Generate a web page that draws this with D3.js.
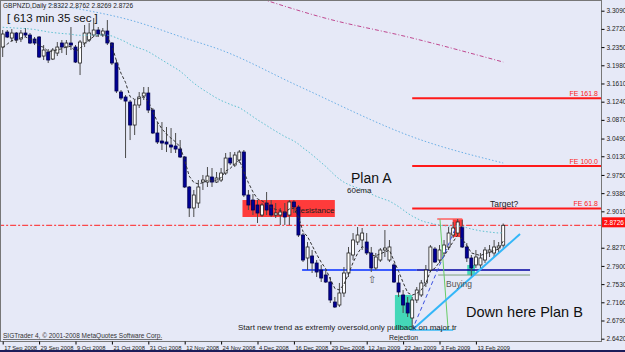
<!DOCTYPE html>
<html><head><meta charset="utf-8">
<script src="https://cdn.jsdelivr.net/npm/d3@7"></script>
<style>body{margin:0;background:#e6e9f7;} svg{display:block;font-family:"Liberation Sans",Arial,sans-serif;}</style>
</head><body><svg id="c" width="625" height="352"></svg>
<script>
const opens=[3.2351,3.2656,3.2534,3.2636,3.2514,3.2636,3.2595,3.2514,3.2555,3.2168,3.2250,3.2107,3.2229,3.2433,3.2351,3.2433,3.2351,3.2026,3.2433,3.2494,3.2595,3.2697,3.2595,3.2677,3.2433,3.2026,3.1436,3.1335,3.1233,3.0765,3.1172,3.1355,3.1416,3.1070,3.0603,3.0440,3.0420,3.0359,3.0338,3.0277,3.0115,2.9505,2.9078,2.9179,2.9606,2.9606,2.9708,2.9606,2.9647,2.9789,3.0094,2.9952,3.0054,3.0216,2.9342,2.9240,2.9139,2.8935,2.9179,2.9139,2.8935,2.8935,2.8996,2.8935,2.9200,2.9098,2.8529,2.8061,2.8102,2.7959,2.7817,2.7715,2.7573,2.7166,2.7105,2.7349,2.7756,2.8122,2.8386,2.8427,2.8386,2.8163,2.7858,2.8020,2.8224,2.8020,2.7919,2.7553,2.7309,2.7146,2.6841,2.7207,2.7309,2.7553,2.7817,2.8244,2.8020,2.8163,2.8285,2.8529,2.8569,2.8691,2.8285,2.8061,2.7919,2.7919,2.8020,2.8183,2.8163,2.8264,2.8322];
const highs=[3.2697,3.2697,3.2717,3.2656,3.2697,3.2738,3.2636,3.2555,3.2575,3.2392,3.2311,3.2331,3.2453,3.2494,3.2494,3.2758,3.2392,3.2494,3.2799,3.2839,3.2941,3.2758,3.2738,3.2900,3.2453,3.2087,3.1477,3.1375,3.1274,3.1274,3.1436,3.1538,3.1538,3.1111,3.0826,3.0826,3.0725,3.0704,3.0603,3.0460,3.0135,2.9525,2.9444,2.9647,2.9749,2.9911,2.9891,2.9810,2.9891,3.0196,3.0216,3.0216,3.0257,3.0257,2.9444,2.9362,2.9240,2.9179,2.9403,2.9240,2.9179,2.9078,2.9179,2.9240,2.9240,2.9139,2.8569,2.8386,2.8224,2.8020,2.7919,2.7817,2.7675,2.7268,2.7553,2.7878,2.8285,2.8569,2.8691,2.8671,2.8569,2.8285,2.8163,2.8264,2.8630,2.8427,2.7959,2.7715,2.7410,2.7268,2.7268,2.7471,2.7614,2.7919,2.8325,2.8285,2.8325,2.8427,2.8691,2.8793,2.8854,2.8834,2.8366,2.8122,2.8224,2.8163,2.8285,2.8325,2.8427,2.8386,2.8762];
const lows=[3.2148,3.2534,3.2453,3.2433,3.2453,3.2555,3.2412,3.2392,3.2128,3.2087,3.2026,3.2087,3.2168,3.2229,3.2189,3.2290,3.2026,3.1782,3.2351,3.2453,3.2555,3.2555,3.2555,3.2392,3.1985,3.1416,3.1274,3.0094,3.0460,3.0562,3.1111,3.1274,3.1009,3.0582,3.0379,3.0257,3.0216,3.0196,3.0196,3.0094,2.9484,2.8895,2.8895,2.9078,2.9444,2.9505,2.9505,2.9586,2.9606,2.9749,2.9952,2.9911,2.9993,2.9301,2.9037,2.8935,2.8773,2.8895,2.8935,2.8895,2.8874,2.8732,2.8732,2.8732,2.8976,2.8488,2.7980,2.7817,2.7756,2.7675,2.7573,2.7553,2.7146,2.7044,2.7065,2.7268,2.7675,2.8020,2.8325,2.8224,2.8122,2.7776,2.7817,2.7980,2.8081,2.7980,2.7553,2.7268,2.6943,2.6861,2.6597,2.7146,2.7268,2.7471,2.7776,2.7959,2.7959,2.8102,2.8224,2.8468,2.8529,2.8264,2.7980,2.7675,2.7858,2.7858,2.7959,2.8081,2.8081,2.8163,2.8269];
const closes=[3.2616,3.2555,3.2636,3.2494,3.2636,3.2595,3.2433,3.2433,3.2148,3.2290,3.2087,3.2290,3.2351,3.2351,3.2433,3.2392,3.2046,3.2453,3.2636,3.2636,3.2697,3.2616,3.2677,3.2433,3.2026,3.1457,3.1314,3.1253,3.0765,3.1172,3.1335,3.1416,3.1070,3.0603,3.0420,3.0399,3.0379,3.0318,3.0277,3.0115,2.9505,2.9078,2.9342,2.9505,2.9647,2.9728,2.9606,2.9688,2.9789,3.0094,2.9993,3.0155,3.0216,2.9342,2.9139,2.9037,2.8976,2.9139,2.9037,2.8935,2.8976,2.8996,2.8895,2.9200,2.9098,2.8529,2.8020,2.8285,2.7959,2.7776,2.7654,2.7573,2.7207,2.7065,2.7349,2.7756,2.8163,2.8427,2.8529,2.8569,2.8163,2.7858,2.8081,2.8224,2.8264,2.8285,2.7573,2.7370,2.7105,2.6943,2.7207,2.7410,2.7553,2.7817,2.8285,2.7980,2.8224,2.8325,2.8569,2.8671,2.8793,2.8285,2.8061,2.7858,2.8081,2.8061,2.8224,2.8224,2.8285,2.8305,2.8726];
const dateLabels=["17 Sep 2008","29 Sep 2008","9 Oct 2008","21 Oct 2008","31 Oct 2008","12 Nov 2008","24 Nov 2008","4 Dec 2008","16 Dec 2008","29 Dec 2008","12 Jan 2009","22 Jan 2009","3 Feb 2009","13 Feb 2009"];
const priceTicks=[3.3090,3.2720,3.2350,3.1980,3.1610,3.1240,3.0870,3.0490,3.0130,2.9750,2.9380,2.9010,2.8270,2.7900,2.7530,2.7160,2.6790,2.6420];
const feNames=["FE 161.8","FE 100.0","FE 61.8"];
const feLevels=[3.1310,2.9930,2.9070];
const longMaIdx=[10,18,28,40,48,65,92,110];
const longMaVals=[3.3226,3.3104,3.2900,3.2534,3.2290,3.1558,3.0460,2.9993];
const slowMaIdx=[57,70,90,110];
const slowMaVals=[3.3327,3.2961,3.2534,3.2046];
const ema5Seed=3.2200, ema60Seed=3.2758;

const N=closes.length;
const x=d3.scaleLinear().domain([0,N-1]).range([2.7,503.2]);
const y=d3.scaleLinear().domain([2.642,3.309]).range([338.7,10.7]);
const svg=d3.select('#c');
svg.append('rect').attr('width',625).attr('height',352).attr('fill','#e6e9f7');
svg.append('clipPath').attr('id','clip').append('rect').attr('x',1).attr('y',1).attr('width',600).attr('height',340);
const g=svg.append('g').attr('clip-path','url(#clip)');

function ema(vals,period,seed){const a=2/(period+1);let e=seed;return vals.map(v=>(e=e+a*(v-e)));}
const ema5=ema(closes,5,ema5Seed), ema60=ema(closes,60,ema60Seed);

// zones
function box(i0,i1,p0,p1,fill){g.append('rect').attr('x',x(i0)).attr('width',x(i1)-x(i0)).attr('y',y(p0)).attr('height',y(p1)-y(p0)).attr('fill',fill);}
box(52.7,73,2.9240,2.8895,'#ff3b3b');
g.append('text').attr('x',x(64.2)).attr('y',y(2.8980)).attr('font-size',8).attr('fill','#202020').text('Resistance');
box(86.2,90,2.7309,2.6597,'#44d8b8');
box(102.1,103.8,2.7919,2.7715,'#44d8b8');
box(98.9,101.1,2.8854,2.8488,'#ff3b3b');

// horizontal levels
function hline(i0,i1,p,stroke,w,dash){g.append('line').attr('x1',x(i0)).attr('x2',x(i1)).attr('y1',y(p)).attr('y2',y(p)).attr('stroke',stroke).attr('stroke-width',w).attr('stroke-dasharray',dash||null);}
hline(-1,140,closes[N-1],'#ff2020',1,'6,2,2,2');
feLevels.forEach((p,k)=>{hline(90,140,p,'#ff1a1a',2);
  svg.append('text').attr('x',598).attr('y',y(p)-2).attr('text-anchor','end').attr('font-size',7).attr('fill','#ff2020').text(feNames[k]);});
hline(65.8,91,2.7817,'#3c5cff',2);
hline(91,115.9,2.7817,'#0000a0',1.5);
hline(95.7,115.9,2.7715,'#7f9f7f',1);
hline(95.5,101,2.8854,'#ff6060',1.5);
hline(89.5,99,2.6597,'#36b8f5',1.5);

// candles
const data=d3.range(N).map(i=>({i,o:opens[i],h:highs[i],l:lows[i],c:closes[i]}));
g.selectAll('line.wick').data(data).join('line').attr('class','wick')
 .attr('x1',d=>x(d.i)).attr('x2',d=>x(d.i)).attr('y1',d=>y(d.h)).attr('y2',d=>y(d.l)).attr('stroke','#4a4a4a').attr('stroke-width',1);
g.selectAll('rect.body').data(data).join('rect').attr('class','body')
 .attr('x',d=>x(d.i)-1.5).attr('width',3)
 .attr('y',d=>y(Math.max(d.o,d.c))).attr('height',d=>Math.max(1,Math.abs(y(d.o)-y(d.c))))
 .attr('fill',d=>d.c>=d.o?'#ffffff':'#000096').attr('stroke',d=>d.c>=d.o?'#222':'#000050').attr('stroke-width',0.8);

// moving averages
const lineIdx=d3.line().x((d,i)=>x(i)).y(d=>y(d));
g.append('path').datum(ema5).attr('d',lineIdx).attr('fill','none').attr('stroke','#303030').attr('stroke-width',1).attr('stroke-dasharray','3,2');
g.append('path').datum(ema60).attr('d',lineIdx).attr('fill','none').attr('stroke','#5cc0d0').attr('stroke-width',1).attr('stroke-dasharray','1.5,2');
const lineS=d3.line().x(d=>x(d[0])).y(d=>y(d[1])).curve(d3.curveMonotoneX);
g.append('path').datum(longMaIdx.map((v,k)=>[v,longMaVals[k]])).attr('d',lineS).attr('fill','none').attr('stroke','#6aaee6').attr('stroke-width',1).attr('stroke-dasharray','1.5,2');
g.append('path').datum(slowMaIdx.map((v,k)=>[v,slowMaVals[k]])).attr('d',lineS).attr('fill','none').attr('stroke','#c04890').attr('stroke-width',1).attr('stroke-dasharray','4,2,1,2');

// trend lines
function seg(i0,p0,i1,p1,stroke,w,dash){g.append('line').attr('x1',x(i0)).attr('y1',y(p0)).attr('x2',x(i1)).attr('y2',y(p1)).attr('stroke',stroke).attr('stroke-width',w).attr('stroke-dasharray',dash||null);}
seg(96.1,2.8854,97.9,2.6597,'#66cc66',1);
seg(90,2.6597,99.5,2.8671,'#3a50e0',1,'4,3');
seg(90,2.6597,113.7,2.8549,'#33b6f8',2);

// texts
const t=(xx,yy,s,txt,fill,extra)=>{const e=svg.append('text').attr('x',xx).attr('y',yy).attr('font-size',s).attr('fill',fill||'#111').text(txt);if(extra)extra(e);return e;};
t(3,8,6.5,'GBPNZD,Daily  2.8322 2.8762 2.8269 2.8726','#222');
t(7,22,11.5,'[ 613 min 35 sec ]','#111');
t(351,183,14,'Plan A','#111');
t(347,193,8,'60ema','#222');
t(490,207,8.5,'Target?','#222');
t(446,287,8.5,'Buying','#555');
t(466,317,14.5,'Down here Plan B','#111');
t(238,330,8,'Start new trend as extremly oversold,only pullback on major tr','#222');
t(389,339.5,7,'Rejection','#222');
t(368,283,10,'⇧','#555');
t(3,338,6.5,'SIGTrader 4, © 2001-2008 MetaQuotes Software Corp.','#333',e=>e.attr('text-decoration','underline'));

// frame
svg.append('line').attr('x1',601.5).attr('x2',601.5).attr('y1',0).attr('y2',341).attr('stroke','#000');
svg.append('line').attr('x1',0).attr('x2',602).attr('y1',341.5).attr('y2',341.5).attr('stroke','#000');
svg.append('rect').attr('x',0.5).attr('y',0.5).attr('width',601).attr('height',341).attr('fill','none').attr('stroke','#777');

// right axis
const ya=svg.append('g').attr('transform','translate(601.5,0)').call(d3.axisRight(y).tickValues(priceTicks).tickFormat(d3.format('.4f')).tickSize(3));
ya.select('.domain').remove();
ya.selectAll('text').attr('font-size',6.5).attr('fill','#222').attr('x',5).attr('font-family','"Liberation Sans",Arial,sans-serif');
ya.selectAll('line').attr('stroke','#000');
const lp=y(closes[N-1]);
svg.append('rect').attr('x',602).attr('y',lp-8).attr('width',23).attr('height',10).attr('fill','#ff1010');
svg.append('text').attr('x',604).attr('y',lp-0.5).attr('font-size',6.5).attr('fill','#fff').text(d3.format('.4f')(closes[N-1]));

// bottom axis
const xa=svg.append('g').attr('transform','translate(0,341.5)').call(d3.axisBottom(x).tickValues(d3.range(0,N,8)).tickFormat((d,k)=>dateLabels[k]).tickSize(3));
xa.select('.domain').remove();
xa.selectAll('line').attr('stroke','#000');
xa.selectAll('text').attr('font-size',5.8).attr('fill','#222').attr('text-anchor','start').attr('dx',1).attr('y',4).attr('font-family','"Liberation Sans",Arial,sans-serif');
svg.append('rect').attr('x',0).attr('y',350).attr('width',625).attr('height',2).attr('fill','#1c1c5a');
</script></body></html>
